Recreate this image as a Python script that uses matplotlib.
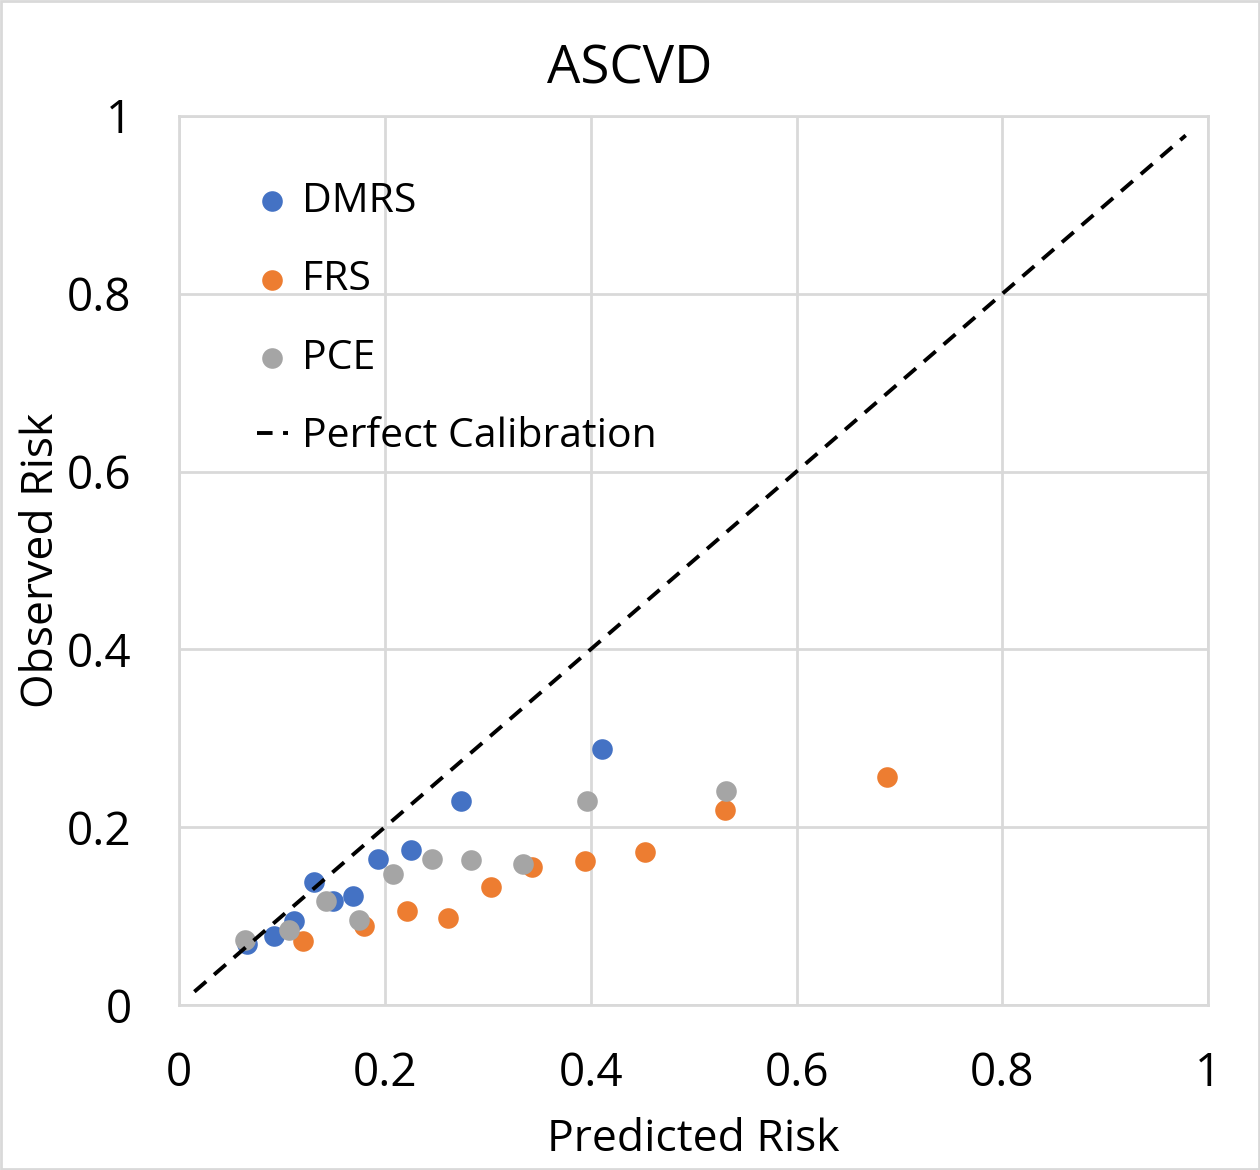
import matplotlib.pyplot as plt
from matplotlib.patches import Rectangle

# values
dmrs_x = [0.066, 0.092, 0.112, 0.131, 0.150, 0.169, 0.193, 0.225, 0.274, 0.411]
dmrs_y = [0.069, 0.078, 0.094, 0.138, 0.117, 0.123, 0.164, 0.174, 0.229, 0.288]
frs_x = [0.121, 0.180, 0.222, 0.261, 0.303, 0.343, 0.394, 0.453, 0.530, 0.688]
frs_y = [0.072, 0.089, 0.106, 0.098, 0.133, 0.155, 0.162, 0.172, 0.219, 0.257]
pce_x = [0.064, 0.107, 0.143, 0.175, 0.208, 0.246, 0.284, 0.334, 0.396, 0.531]
pce_y = [0.073, 0.084, 0.117, 0.096, 0.147, 0.164, 0.163, 0.159, 0.229, 0.241]
calib = [0.015, 0.978]
ticks = [0, 0.2, 0.4, 0.6, 0.8, 1]
tick_labels = ['0', '0.2', '0.4', '0.6', '0.8', '1']

plt.rcParams['font.family'] = ['Open Sans', 'DejaVu Sans']

fig = plt.figure(figsize=(12.6, 11.7), dpi=100)
ax = fig.add_axes([0.142, 0.141, 0.817, 0.760])

ms = 220
ax.scatter(dmrs_x, dmrs_y, s=ms, color='#4472C4', label='DMRS', zorder=3, linewidths=0)
ax.scatter(frs_x, frs_y, s=ms, color='#ED7D31', label='FRS', zorder=3, linewidths=0)
ax.scatter(pce_x, pce_y, s=ms, color='#A5A5A5', label='PCE', zorder=3, linewidths=0)
ax.plot(calib, calib, color='black', ls=(0, (4, 2.7)), lw=2.8, label='Perfect Calibration', zorder=4)

ax.set_xlim(0, 1)
ax.set_ylim(0, 1)
ax.set_xticks(ticks)
ax.set_xticklabels(tick_labels)
ax.set_yticks(ticks)
ax.set_yticklabels(tick_labels)
ax.tick_params(length=0, labelsize=33, colors='black')
ax.tick_params(axis='x', pad=33)
ax.tick_params(axis='y', pad=34)
ax.grid(True, color='#d9d9d9', lw=2)
ax.set_axisbelow(True)
for s in ax.spines.values():
    s.set_color('#d9d9d9')
    s.set_linewidth(2)

fig.text(0.5, 1 - 70 / 1170, 'ASCVD', fontsize=38, ha='center', va='center')
ax.set_xlabel('Predicted Risk', fontsize=32, labelpad=15)
ax.set_ylabel('Observed Risk', fontsize=32, labelpad=2)

leg = ax.legend(loc='upper left', bbox_to_anchor=(0.04, 0.968), frameon=False,
                fontsize=29.5, labelspacing=0.93, handlelength=0.75, handletextpad=0.35)

fig.add_artist(Rectangle((0.001, 0.001), 0.998, 0.998, transform=fig.transFigure,
                         fill=False, edgecolor='#d9d9d9', lw=2))

fig.savefig('out.png', dpi=100)
